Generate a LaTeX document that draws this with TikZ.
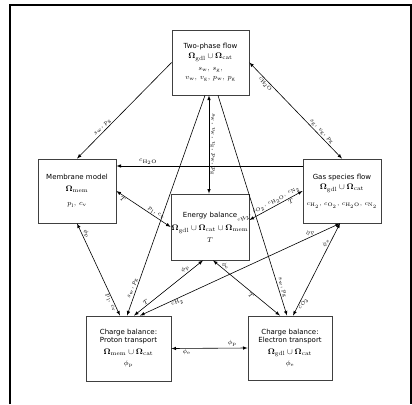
\documentclass[tikz,border=0pt]{standalone}
\usepackage[no-math]{fontspec}
\setsansfont{DejaVu Sans}
\newcommand{\Dom}[1]{\mathbf{\Omega}_{\mathrm{#1}}}
\newcommand{\sub}[2]{#1_{\mathrm{#2}}}

\begin{document}
\begin{tikzpicture}
		% pixel-like units, y pointing down
		[x=1pt, y=-1pt, >=latex,
		box/.style={draw=black!75, line width=0.8pt, align=center, inner sep=0pt,
			font=\sffamily\fontsize{7}{8.5}\selectfont},
		link/.style={black, line width=0.6pt},
		lbl/.style={sloped, inner sep=1pt, font=\fontsize{6}{7}\selectfont}]
	
		\useasboundingbox (0,0) rectangle (412,404);
		% outer frame
		\draw[line width=1.2pt] (10,404) -- (10,5) -- (411,5) -- (411,404);
		
		% The six models
		\node[box, minimum width=77pt, minimum height=65pt] (flow) at (210.5,62.5)
			{Two-phase flow\\[2pt] \fontsize{8}{9}\selectfont$\Dom{gdl}\cup\Dom{cat}$\\[3pt]
			$\sub{s}{w},\,\sub{s}{g},$\\[1pt] $\sub{v}{w},\,\sub{v}{g},\,\sub{p}{w},\,\sub{p}{g}$};
		\node[box, minimum width=78pt, minimum height=64pt] (mem) at (77,191)
			{Membrane model\\[3pt] \fontsize{8}{9}\selectfont$\Dom{mem}$\\[6pt] $\sub{p}{l},\,\sub{c}{v}$};
		\node[box, minimum width=78pt, minimum height=64pt] (gas) at (342,191)
			{Gas species flow\\[2pt] \fontsize{8}{9}\selectfont$\Dom{gdl}\cup\Dom{cat}$\\[7pt]
			{\fontsize{6.5}{7}\selectfont$c_{\mathrm{H_2}},\,c_{\mathrm{O_2}},\,c_{\mathrm{H_2O}},\,c_{\mathrm{N_2}}$}};
		\node[box, minimum width=78pt, minimum height=66pt] (heat) at (210,227)
			{Energy balance\\[5pt] \fontsize{8}{9}\selectfont$\Dom{gdl}\cup\Dom{cat}\cup\Dom{mem}$\\[3pt] $T$};
		\node[box, minimum width=85pt, minimum height=65pt] (proton) at (128.5,348.5)
			{Charge balance:\\ Proton transport\\[3pt] \fontsize{8}{9}\selectfont$\Dom{mem}\cup\Dom{cat}$\\[3pt] $\sub{\phi}{p}$};
		\node[box, minimum width=84pt, minimum height=64pt] (electron) at (290,348)
			{Charge balance:\\ Electron transport\\[3pt] \fontsize{8}{9}\selectfont$\Dom{gdl}\cup\Dom{cat}$\\[3pt] $\sub{\phi}{e}$};
		
		% From the two-phase flow
		\draw[link, ->] (flow.west) -- (mem.north)
			node[lbl, pos=0.7, above] {$\sub{s}{w},\,\sub{p}{g}$};
		\draw[link, <->] (flow.east) -- (gas.north)
			node[lbl, pos=0.2, below] {$c_{\mathrm{H_2O}}$}
			node[lbl, pos=0.75, above] {$\sub{s}{g},\,\sub{v}{g},\,\sub{p}{g}$};
		\draw[link, <->] ([xshift=-1.5pt]flow.south) -- ([xshift=-1pt]heat.north)
			node[lbl, midway, above] {$\sub{s}{w},\,\sub{v}{w},\,\sub{v}{g},\,\sub{p}{w},\,\sub{p}{g}$};
		\draw[link, ->] ([xshift=-5.5pt]flow.south) -- ([xshift=-1.5pt]proton.north)
			node[lbl, pos=0.88, above] {$\sub{s}{w},\,\sub{p}{g}$};
		\draw[link, ->] ([xshift=7.5pt]flow.south) -- ([xshift=-3pt]electron.north)
			node[lbl, pos=0.88, above] {$\sub{s}{w},\,\sub{p}{g}$};
		
		% Gas species and membrane
		\draw[link, ->] ([yshift=25pt]gas.west) -- ([yshift=25pt]mem.east)
			node[lbl, pos=0.83, above] {$c_{\mathrm{H_2O}}$};
		\draw[link, <->] (mem.east) -- (heat.west)
			node[lbl, pos=0.15, below] {$T$}
			node[lbl, pos=0.7, above] {$\sub{p}{l},\,\sub{c}{v}$};
		\draw[link, <->] (gas.west) -- ([yshift=7pt]heat.east)
			node[lbl, pos=0.25, below] {$T$}
			node[lbl, pos=0.6, above, font=\fontsize{4.5}{5}\selectfont]
				{$c_{\mathrm{H_2}},\,c_{\mathrm{O_2}},\,c_{\mathrm{H_2O}},\,c_{\mathrm{N_2}}$};
		\draw[link, <->] (mem.south) -- ([xshift=-8.5pt]proton.north)
			node[lbl, pos=0.13, above] {$\sub{\phi}{p}$}
			node[lbl, pos=0.85, below] {$\sub{p}{l},\,\sub{c}{v}$};
		
		% Energy balance to the charge balances
		\draw[link, <->] ([xshift=-7pt]heat.south) -- ([xshift=5.5pt]proton.north)
			node[lbl, pos=0.22, above] {$\sub{\phi}{p}$}
			node[lbl, pos=0.8, above] {$T$};
		\draw[link, <->] ([xshift=3pt]heat.south) -- ([xshift=-10pt]electron.north)
			node[lbl, pos=0.15, above] {$\sub{\phi}{e}$}
			node[lbl, pos=0.6, below] {$T$};
		
		% Gas species to the charge balances
		\draw[link, <->] ([xshift=-2pt]gas.south) -- ([xshift=11.5pt]proton.north)
			node[lbl, pos=0.14, above] {$\sub{\phi}{p}$}
			node[lbl, pos=0.82, below] {$c_{\mathrm{H_2}}$};
		\draw[link, <->] ([xshift=-2pt]gas.south) -- ([xshift=3pt]electron.north)
			node[lbl, pos=0.23, above] {$\sub{\phi}{e}$}
			node[lbl, pos=0.85, below] {$c_{\mathrm{O_2}}$};
		
		% Between the two charge balances
		\draw[link, <->] (proton.east) -- (electron.west)
			node[lbl, pos=0.2, below] {$\sub{\phi}{e}$}
			node[lbl, pos=0.8, above] {$\sub{\phi}{p}$};
	\end{tikzpicture}
\end{document}
